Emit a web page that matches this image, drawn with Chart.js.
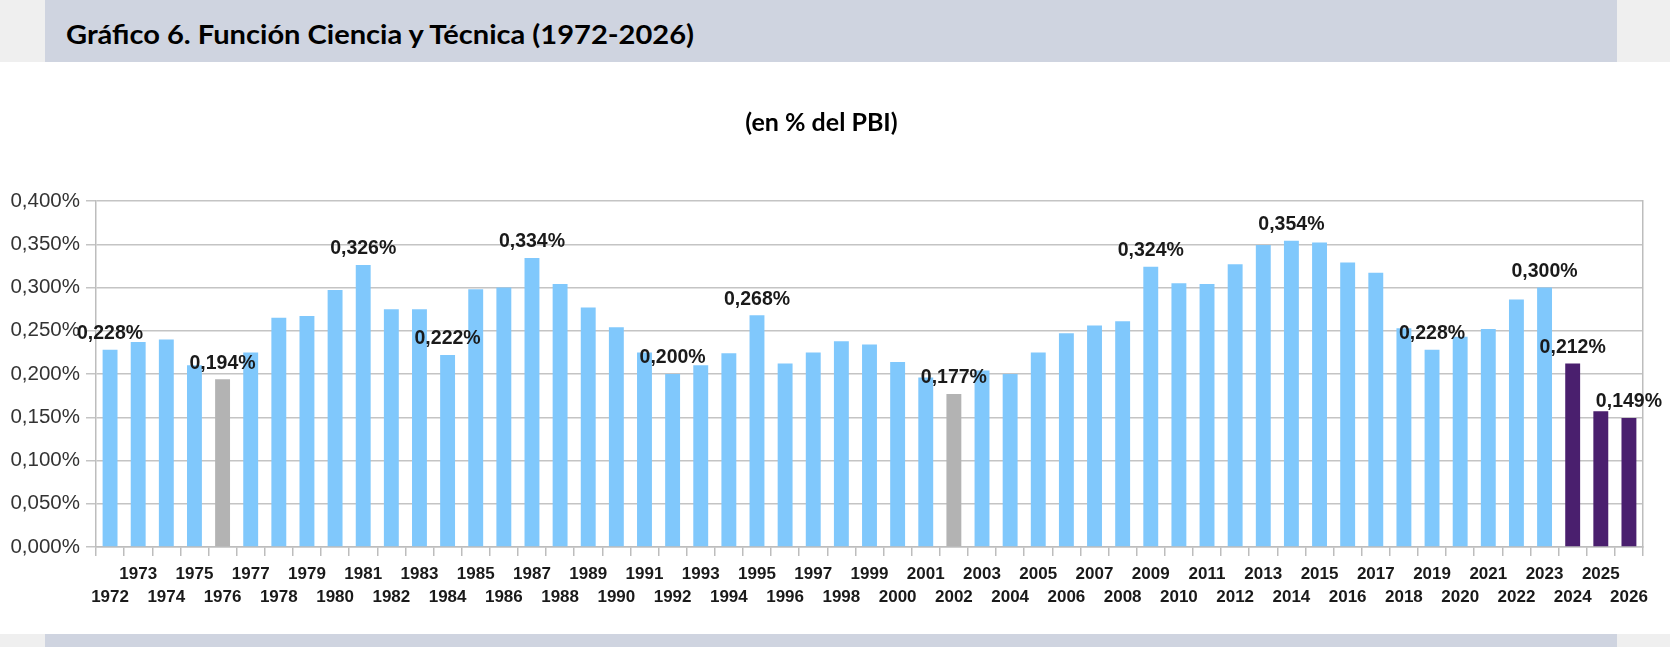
<!DOCTYPE html>
<html>
<head>
<meta charset="utf-8">
<script src="https://cdn.jsdelivr.net/npm/chart.js@4.4.1/dist/chart.umd.min.js"></script>
<style>
  html, body { margin: 0; padding: 0; background: #ffffff; }
  body { width: 1670px; height: 647px; position: relative; overflow: hidden; }
  .strip { position: absolute; left: 0; width: 1670px; background: #efefef; }
  .band { position: absolute; left: 45px; width: 1572px; background: #cfd4e0; }
  #header { position: absolute; left: 66px; top: 14px; font-family: Lato, "Open Sans", sans-serif; font-weight: bold; font-size: 27px; color: #000; white-space: nowrap; transform-origin: 0 0; line-height: 40px; }
  #wrap { position: absolute; left: 0; top: 62px; width: 1670px; height: 572px; }
</style>
</head>
<body>
<div class="strip" style="top:0;height:62px;"></div>
<div class="band" style="top:0;height:62px;"></div>
<div id="header">Gráfico 6. Función Ciencia y Técnica (1972-2026)</div>
<div class="strip" style="top:634px;height:13px;"></div>
<div class="band" style="top:634px;height:13px;"></div>
<div id="wrap"><canvas id="c" width="1670" height="572"></canvas></div>
<script>
// ---- data ----
const years = [1972,1973,1974,1975,1976,1977,1978,1979,1980,1981,1982,1983,1984,1985,1986,1987,1988,1989,1990,1991,1992,1993,1994,1995,1996,1997,1998,1999,2000,2001,2002,2003,2004,2005,2006,2007,2008,2009,2010,2011,2012,2013,2014,2015,2016,2017,2018,2019,2020,2021,2022,2023,2024,2025,2026];
const values = [0.228,0.237,0.240,0.210,0.194,0.225,0.265,0.267,0.297,0.326,0.275,0.275,0.222,0.298,0.300,0.334,0.304,0.277,0.254,0.225,0.200,0.210,0.224,0.268,0.212,0.225,0.238,0.234,0.214,0.196,0.177,0.204,0.200,0.225,0.247,0.256,0.261,0.324,0.305,0.304,0.327,0.349,0.354,0.352,0.329,0.317,0.253,0.228,0.243,0.252,0.286,0.300,0.212,0.157,0.149];
const grayYears = [1976, 2002];
const purpleYears = [2024, 2025, 2026];
const labeledYears = [1972,1976,1981,1984,1987,1992,1995,2002,2009,2014,2019,2023,2024,2026];
const yTicks = [0,0.05,0.10,0.15,0.20,0.25,0.30,0.35,0.40];
const subtitle = '(en % del PBI)';

// fit header width
(function(){
  const h = document.getElementById('header');
  const w = h.getBoundingClientRect().width;
  h.style.transform = 'scaleX(' + (628 / w) + ')';
})();

const colors = years.map(y => purpleYears.includes(y) ? '#4a1f6e' : (grayYears.includes(y) ? '#b3b3b3' : '#80c8fc'));
const fmt = v => v.toFixed(3).replace('.', ',') + '%';

const labelPlugin = {
  id: 'barLabels',
  afterDatasetsDraw(chart) {
    const ctx = chart.ctx;
    const meta = chart.getDatasetMeta(0);
    ctx.save();
    ctx.font = 'bold 19.5px "Liberation Sans", Arial, sans-serif';
    ctx.fillStyle = '#1a1a1a';
    ctx.textAlign = 'center';
    ctx.textBaseline = 'middle';
    meta.data.forEach((bar, i) => {
      if (labeledYears.includes(years[i])) {
        ctx.fillText(fmt(values[i]), bar.x, bar.y - 16);
      }
    });
    ctx.restore();
  }
};

new Chart(document.getElementById('c'), {
  type: 'bar',
  data: {
    labels: years.map(String),
    datasets: [{
      data: values,
      backgroundColor: colors,
      borderWidth: 0,
      barPercentage: 0.53,
      categoryPercentage: 1.0
    }]
  },
  options: {
    responsive: false,
    animation: false,
    devicePixelRatio: 1,
    layout: { padding: { left: 0, right: 27, top: 46, bottom: 0 } },
    plugins: {
      legend: { display: false },
      tooltip: { enabled: false },
      title: {
        display: true,
        text: subtitle,
        color: '#000',
        font: { family: 'Lato, "Open Sans", sans-serif', weight: 'bold', size: 25, lineHeight: 1.2 },
        padding: { top: 0, bottom: 63 }
      }
    },
    scales: {
      x: {
        grid: { display: true, drawOnChartArea: false, offset: true, tickLength: 9, color: '#bdbdbd', lineWidth: 1.5 },
        border: { display: true, color: '#bdbdbd', width: 1.5 },
        ticks: {
          autoSkip: false, maxRotation: 0, minRotation: 0, padding: 6.5,
          color: '#1a1a1a',
          font: { family: '"Liberation Sans", Arial, sans-serif', weight: 'bold', size: 17, lineHeight: 23 / 17 },
          callback: function(val, idx) {
            const y = years[idx];
            return (y % 2 === 1) ? [String(y), ''] : ['', String(y)];
          }
        },
        afterFit: s => { s.height = 87; }
      },
      y: {
        min: 0, max: 0.4,
        afterBuildTicks: s => { s.ticks = yTicks.map(v => ({ value: v })); },
        grid: { color: '#c4c4c4', lineWidth: 1.5, tickLength: 10 },
        border: { display: true, color: '#bdbdbd', width: 1.5 },
        ticks: {
          padding: 6, color: '#333',
          font: { family: '"Liberation Sans", Arial, sans-serif', size: 20.5 },
          callback: v => fmt(v)
        },
        afterFit: s => { s.width = 96; }
      },
      y2: {
        position: 'right', min: 0, max: 0.4,
        grid: { display: false },
        border: { display: true, color: '#bdbdbd', width: 1.5 },
        ticks: { display: false },
        afterFit: s => { s.width = 0; }
      }
    }
  },
  plugins: [labelPlugin]
});
</script>
</body>
</html>
